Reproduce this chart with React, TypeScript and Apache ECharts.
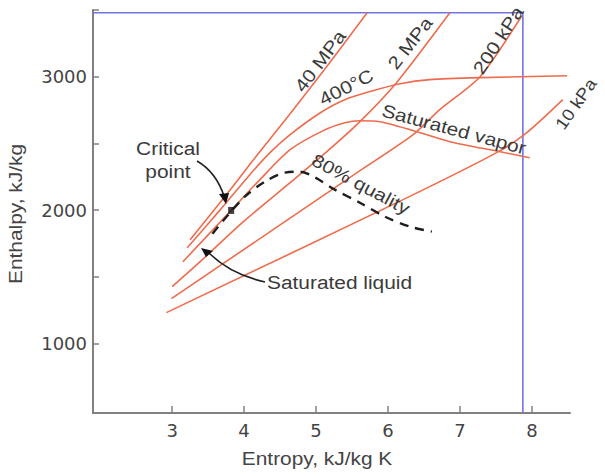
import React, { useEffect, useRef } from "react";
import * as echarts from "echarts";

// Axis ticks / labels
const entropyTicks = [3, 4, 5, 6, 7, 8];
const enthalpyTicks = [1000, 1500, 2000, 2500, 3000, 3500];
const enthalpyLabels = [1000, 2000, 3000];

// Curves: [entropy kJ/kg K, enthalpy kJ/kg]
const isobar40MPa = [[3.25, 1779], [3.81, 2154], [4.13, 2378], [4.64, 2723], [5.19, 3105], [5.71, 3479]];
const isotherm400C = [[3.21, 1719], [3.67, 2004], [4.08, 2266], [4.36, 2431], [4.64, 2566], [5.06, 2730], [5.4, 2828], [5.79, 2895], [6.17, 2948], [6.58, 2978], [7.28, 2993], [8.49, 3007]];
const saturationDome = [[3.15, 1614], [3.83, 2004], [4.22, 2229], [4.64, 2453], [5.1, 2596], [5.4, 2655], [5.61, 2670], [5.89, 2663], [6.31, 2603], [6.86, 2513], [7.56, 2438], [7.97, 2393]];
const isobar2MPa = [[3.0, 1427], [3.39, 1614], [3.99, 1914], [4.64, 2206], [5.15, 2438], [5.61, 2663], [6.13, 2963], [6.86, 3479]];
const isobar200kPa = [[2.99, 1337], [5.57, 2281], [6.35, 2566], [6.72, 2753], [7.28, 3000], [7.86, 3457]];
const isobar10kPa = [[2.92, 1232], [6.21, 2079], [7.51, 2431], [7.93, 2581], [8.43, 2828]];
const quality80 = [[3.56, 1824], [3.78, 1966], [4.01, 2101], [4.29, 2214], [4.57, 2281], [4.78, 2288], [4.99, 2244], [5.26, 2154], [5.61, 2056], [5.96, 1951], [6.31, 1876], [6.61, 1839]];
const criticalPoint = [[3.82, 1998]];
const frameBox = [[1.9, 3479], [7.875, 3479], [7.875, 480]];

const RED = "#ee6c4d";
const FONT = "Liberation Sans, Arial, sans-serif";
const TICKFONT = "DejaVu Sans, sans-serif";
const TXT = "#3a3a3a";
const SX = 1.16;

function curve(name: string, data: number[][], smooth = 0.25) {
  return {
    name,
    type: "line",
    data,
    showSymbol: false,
    smooth,
    lineStyle: { color: RED, width: 1.6 },
    z: 2,
  };
}

function label(text: string, x: number, y: number, deg: number, size = 18, align = "center", sx = SX) {
  return {
    type: "text",
    x,
    y,
    rotation: (deg * Math.PI) / 180,
    scaleX: sx,
    style: { text, fill: TXT, font: `${size}px ${FONT}`, align, verticalAlign: "middle" },
    z: 10,
  };
}

export default function App() {
  const ref = useRef<HTMLDivElement>(null);
  useEffect(() => {
    const chart = echarts.init(ref.current!, null, { renderer: "svg" });
    chart.setOption({
      animation: false,
      backgroundColor: "#ffffff",
      grid: { left: 93, top: 10, width: 477, height: 403 },
      xAxis: {
        type: "value",
        min: 1.9,
        max: 8.53,
        axisLine: { show: true, lineStyle: { color: "#808080", width: 2 } },
        axisTick: { show: true, inside: true, length: 7, customValues: entropyTicks, lineStyle: { color: "#808080", width: 1.5 } },
        axisLabel: { customValues: entropyTicks, color: "#444", fontSize: 18, fontFamily: TICKFONT, margin: 8 },
        splitLine: { show: false },
      },
      yAxis: {
        type: "value",
        min: 480,
        max: 3500,
        axisLine: { show: true, lineStyle: { color: "#808080", width: 2 } },
        axisTick: { show: true, inside: true, length: 6, customValues: enthalpyTicks, lineStyle: { color: "#808080", width: 1.5 } },
        axisLabel: {
          customValues: enthalpyLabels,
          formatter: (v: number) => String(v),
          color: "#444",
          fontSize: 18,
          fontFamily: TICKFONT,
          margin: 6,
        },
        splitLine: { show: false },
      },
      series: [
        curve("40 MPa", isobar40MPa),
        curve("400°C", isotherm400C),
        curve("Saturation", saturationDome),
        curve("2 MPa", isobar2MPa),
        curve("200 kPa", isobar200kPa),
        curve("10 kPa", isobar10kPa),
        {
          name: "80% quality",
          type: "line",
          data: quality80,
          showSymbol: false,
          smooth: 0.3,
          lineStyle: { color: "#1e1e1e", width: 2.4, type: [9, 7] },
          z: 3,
        },
        {
          name: "Frame",
          type: "line",
          data: frameBox,
          showSymbol: false,
          lineStyle: { color: "#7373e6", width: 1.6 },
          z: 1,
        },
        {
          name: "Critical point",
          type: "scatter",
          data: criticalPoint,
          symbol: "rect",
          symbolSize: [6, 7],
          itemStyle: { color: "#111" },
          z: 5,
        },
      ],
      graphic: [
        label("40 MPa", 320, 61, 53),
        label("400°C", 346, 87, 27),
        label("2 MPa", 410, 43, 52),
        label("200 kPa", 498, 40, 57),
        label("10 kPa", 576, 104, 55, 17, "center", 1.1),
        label("Saturated vapor", 454, 129, -15),
        label("80% quality", 361, 184, -28),
        label("Critical", 168, 149, 0),
        label("point", 168, 172, 0),
        label("Saturated liquid", 267, 283, 0, 18, "left"),
        {
          type: "text",
          x: 317,
          y: 459,
          scaleX: SX,
          style: { text: "Entropy, kJ/kg K", fill: "#444", font: `18px ${FONT}`, align: "center", verticalAlign: "middle" },
          z: 10,
        },
        {
          type: "text",
          x: 16,
          y: 214,
          rotation: Math.PI / 2,
          scaleX: SX,
          style: { text: "Enthalpy, kJ/kg", fill: "#444", font: `18px ${FONT}`, align: "center", verticalAlign: "middle" },
          z: 10,
        },
        {
          type: "bezierCurve",
          shape: { x1: 197, y1: 161, cpx1: 216, cpy1: 172, x2: 224, y2: 196 },
          style: { stroke: "#222", lineWidth: 1.6, fill: "none" },
          z: 10,
        },
        {
          type: "polygon",
          shape: { points: [[219, 194], [229, 193], [226, 204]] },
          style: { fill: "#111" },
          z: 10,
        },
        {
          type: "bezierCurve",
          shape: { x1: 265, y1: 282, cpx1: 230, cpy1: 274, x2: 209, y2: 253 },
          style: { stroke: "#222", lineWidth: 1.6, fill: "none" },
          z: 10,
        },
        {
          type: "polygon",
          shape: { points: [[201, 248], [213, 251], [206, 257]] },
          style: { fill: "#111" },
          z: 10,
        },
      ],
    });
    return () => chart.dispose();
  }, []);
  return <div ref={ref} style={{ position: "absolute", left: 0, top: 0, width: 605, height: 476 }} />;
}
